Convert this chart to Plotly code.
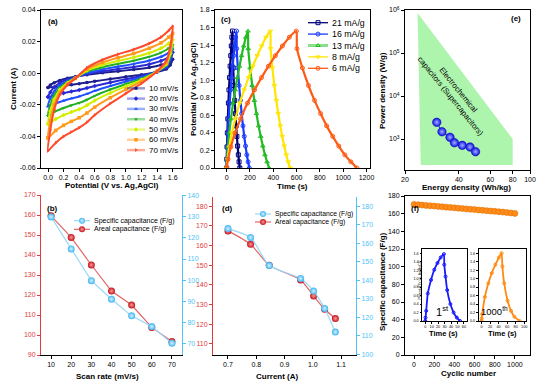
import plotly.graph_objects as go

W, H = 554, 385
FONT = "Liberation Sans, Arial, sans-serif"

# ---------------- (a) cyclic voltammetry ----------------
cv_labels = ["10 mV/s", "20 mV/s", "30 mV/s", "40 mV/s", "50 mV/s", "60 mV/s", "70 mV/s"]
cv_v_up = [0, 0.03, 0.08, 0.15, 0.25, 0.35, 0.5, 0.7, 0.9, 1.1, 1.3, 1.45, 1.55, 1.6]
cv_v_down = [1.6, 1.57, 1.52, 1.4, 1.2, 1.0, 0.8, 0.6, 0.5, 0.4, 0.3, 0.2, 0.1, 0.0]
cv_up_10 = [-0.009, -0.0075, -0.006, -0.0046, -0.0032, -0.0022, -0.001, 0.0003, 0.0013, 0.0023, 0.0036, 0.0052, 0.0070, 0.0088]
cv_up_20 = [-0.015, -0.012, -0.0088, -0.0062, -0.0040, -0.0025, -0.0005, 0.0012, 0.0026, 0.0039, 0.0057, 0.0078, 0.0103, 0.0133]
cv_up_30 = [-0.021, -0.016, -0.0115, -0.0078, -0.0049, -0.0028, 0.0002, 0.0024, 0.0042, 0.0059, 0.0080, 0.0104, 0.0130, 0.0155]
cv_up_40 = [-0.027, -0.020, -0.014, -0.0092, -0.0056, -0.0030, 0.0010, 0.0038, 0.0059, 0.0079, 0.0104, 0.0130, 0.0158, 0.0180]
cv_up_50 = [-0.032, -0.024, -0.0165, -0.0105, -0.0062, -0.0032, 0.0017, 0.0052, 0.0077, 0.0100, 0.0128, 0.0158, 0.0188, 0.0212]
cv_up_60 = [-0.041, -0.030, -0.020, -0.0122, -0.0068, -0.0033, 0.0025, 0.0068, 0.0098, 0.0125, 0.0158, 0.0192, 0.0228, 0.0252]
cv_up_70 = [-0.049, -0.036, -0.023, -0.0138, -0.0074, -0.0034, 0.0034, 0.0085, 0.0120, 0.0150, 0.0188, 0.0228, 0.0270, 0.0297]
cv_down_10 = [0.0088, 0.0052, 0.0026, 0.0008, -0.0010, -0.0023, -0.0037, -0.0051, -0.0059, -0.0066, -0.0073, -0.0079, -0.0085, -0.009]
cv_down_20 = [0.0133, 0.0078, 0.0036, 0.0010, -0.0018, -0.0038, -0.0059, -0.0081, -0.0094, -0.0106, -0.0116, -0.0126, -0.0137, -0.015]
cv_down_30 = [0.0155, 0.0092, 0.0042, 0.0011, -0.0026, -0.0053, -0.0081, -0.0112, -0.0131, -0.0147, -0.0160, -0.0174, -0.0190, -0.021]
cv_down_40 = [0.0180, 0.0108, 0.0050, 0.0012, -0.0034, -0.0068, -0.0103, -0.0143, -0.0168, -0.0188, -0.0203, -0.0220, -0.0240, -0.027]
cv_down_50 = [0.0212, 0.0125, 0.0058, 0.0012, -0.0042, -0.0083, -0.0125, -0.0173, -0.0203, -0.0228, -0.0246, -0.0265, -0.0290, -0.032]
cv_down_60 = [0.0252, 0.0145, 0.0068, 0.0012, -0.0052, -0.0102, -0.0155, -0.0215, -0.0252, -0.0282, -0.0305, -0.0330, -0.0362, -0.041]
cv_down_70 = [0.0297, 0.017, 0.008, 0.0012, -0.0065, -0.0128, -0.0192, -0.0265, -0.0310, -0.0345, -0.0372, -0.0400, -0.0440, -0.049]
cv_colors = ["#1e1e8c", "#2a2ad2", "#1f4fff", "#22b022", "#d2ee00", "#ff9a1a", "#ff4a2a"]
cv_symbols = ["circle", "diamond", "triangle-up", "triangle-down", "diamond", "square", "triangle-right"]

# ---------------- (c) galvanostatic charge/discharge ----------------
gcd_labels = ["21 mA/g", "16 mA/g", "13 mA/g", "8 mA/g", "6 mA/g"]
gcd_v = [0, 0.10, 0.24, 0.40, 0.56, 0.74, 0.89, 1.03, 1.16, 1.28, 1.39, 1.49, 1.56,
         1.36, 1.14, 0.94, 0.77, 0.62, 0.48, 0.36, 0.25, 0.15, 0.07, 0.0]
gcd_t_21 = [0, 1, 3, 6, 10, 15, 20, 25, 30, 35, 40, 45, 50,
            50.6, 56.3, 62.6, 68.9, 75.2, 81.5, 87.8, 94.1, 100.4, 106.7, 113]
gcd_t_16 = [0, 1.7, 5.1, 10.2, 17, 25.5, 34, 42.5, 51, 59.5, 68, 76.5, 85,
            86.1, 96, 107, 118, 129, 140, 151, 162, 173, 184, 195]
gcd_t_13 = [0, 3.7, 11, 22, 36.6, 54.9, 73.2, 91.5, 109.8, 128.1, 146.4, 164.7, 183,
            184.8, 201.2, 219.4, 237.6, 255.8, 274, 292.2, 310.4, 328.6, 346.8, 365]
gcd_t_8 = [0, 7.5, 22.5, 45, 75, 112.5, 150, 187.5, 225, 262.5, 300, 337.5, 375,
           376.7, 392, 409, 426, 443, 460, 477, 494, 511, 528, 545]
gcd_t_6 = [0, 12, 35.9, 71.8, 119.6, 179.4, 239.2, 299, 358.8, 418.6, 478.4, 538.2, 598,
           603.2, 650, 702, 754, 806, 858, 910, 962, 1014, 1066, 1118]
gcd_colors = ["#00007a", "#1a3cff", "#22bb22", "#ffe600", "#ff5a14"]
gcd_symbols = ["square-open", "circle-open", "triangle-up-open", "triangle-down-open", "circle-open"]

# ---------------- (e) Ragone plot ----------------
region_energy = [23.5, 80, 80, 24.5]
region_power = [8.5e5, 1000, 250, 250]
ragone_energy = [30.1, 32.2, 35.7, 37.8, 41.8, 46.2, 49.6]
ragone_power = [2445, 1479, 1096, 820, 713, 652, 507]

# ---------------- (b) capacitance vs scan rate ----------------
scan_rate = [10, 20, 30, 40, 50, 60, 70]
b_areal = [159.6, 148.8, 135.0, 122.0, 115.0, 103.8, 96.8]
b_specific = [130.0, 114.8, 99.7, 90.9, 83.0, 77.9, 70.0]

# ---------------- (d) capacitance vs current ----------------
d_current = [0.70, 0.78, 0.846, 0.957, 1.003, 1.042, 1.080]
d_areal = [167.4, 160.6, 149.9, 142.5, 134.4, 127.6, 122.9]
d_specific = [167.9, 163.1, 147.9, 140.9, 134.1, 124.7, 111.9]

# ---------------- (f) cycling stability ----------------
cycles = [0, 40, 80, 120, 160, 200, 240, 280, 320, 360, 400, 440, 480, 520, 560,
          600, 640, 680, 720, 760, 800, 840, 880, 920, 960, 1000]
cyc_cap = [170.4, 170.1, 169.7, 169.3, 168.9, 168.6, 168.2, 167.8, 167.4, 167.0, 166.6, 166.2, 165.8,
           165.4, 165.0, 164.6, 164.2, 163.8, 163.4, 163.0, 162.6, 162.2, 161.8, 161.3, 160.8, 160.3]
ins1_t = [0, 0.5, 1.5, 4, 9, 14, 19, 24, 29, 29.5, 31.5, 34, 39, 44, 49, 54]
ins1_v = [0, 0.08, 0.24, 0.65, 0.97, 1.21, 1.37, 1.50, 1.58, 1.33, 1.05, 0.73, 0.40, 0.20, 0.08, 0.0]
ins2_t = [0, 0.5, 1.6, 8, 16, 24, 32.5, 40.7, 47, 48.8, 53, 61, 69, 77, 89]
ins2_v = [0, 0.06, 0.16, 0.57, 0.89, 1.13, 1.33, 1.50, 1.60, 1.29, 0.89, 0.48, 0.24, 0.10, 0.0]

RED = "#e03c3c"
LBLUE = "#4fc3f7"

fig = go.Figure()

def dx(a, b):
    return [a / W, b / W]

def dy(top, bottom):
    return [1 - bottom / H, 1 - top / H]

def ax(**kw):
    d = dict(showline=True, linecolor="black", linewidth=1, ticks="outside", ticklen=3,
             tickwidth=1, tickcolor="black", showgrid=False, zeroline=False,
             tickfont=dict(size=7, color="black", family=FONT))
    d.update(kw)
    return d

# (a)
cv_up = [cv_up_10, cv_up_20, cv_up_30, cv_up_40, cv_up_50, cv_up_60, cv_up_70]
cv_down = [cv_down_10, cv_down_20, cv_down_30, cv_down_40, cv_down_50, cv_down_60, cv_down_70]
for lab, up, dn, col, sym in zip(cv_labels, cv_up, cv_down, cv_colors, cv_symbols):
    fig.add_trace(go.Scatter(x=cv_v_up + cv_v_down[1:], y=up + dn[1:], mode="lines+markers",
                             line=dict(color=col, width=2, shape="spline", smoothing=0.6),
                             marker=dict(symbol=sym, size=3.5, color=col),
                             xaxis="x", yaxis="y", showlegend=False, name=lab))

# (c)
gcd_t = [gcd_t_21, gcd_t_16, gcd_t_13, gcd_t_8, gcd_t_6]
for lab, t, col, sym in zip(gcd_labels, gcd_t, gcd_colors, gcd_symbols):
    fig.add_trace(go.Scatter(x=t, y=gcd_v, mode="lines+markers",
                             line=dict(color=col, width=2.2, shape="spline", smoothing=0.5),
                             marker=dict(symbol=sym, size=4, color=col, line=dict(width=1)),
                             xaxis="x2", yaxis="y2", showlegend=False, name=lab))

# (e)
fig.add_trace(go.Scatter(x=region_energy, y=region_power, fill="toself", mode="none",
                         fillcolor="#adf5ad", xaxis="x3", yaxis="y3", showlegend=False))
fig.add_trace(go.Scatter(x=ragone_energy, y=ragone_power, mode="lines+markers",
                         line=dict(color="#2020e0", width=1),
                         marker=dict(size=8.5, color="#1010e6", line=dict(width=0.5, color="#0000a0"),
                                     gradient=dict(type="radial", color="#9fb0ff")),
                         xaxis="x3", yaxis="y3", showlegend=False))

# (b)
fig.add_trace(go.Scatter(x=scan_rate, y=b_specific, mode="lines+markers",
                         line=dict(color="#9ad8f8", width=1.2),
                         marker=dict(size=7, color="#3fb6f0", gradient=dict(type="radial", color="#d6f1ff")),
                         xaxis="x4", yaxis="y5", showlegend=False))
fig.add_trace(go.Scatter(x=scan_rate, y=b_areal, mode="lines+markers",
                         line=dict(color="#e06666", width=1.2),
                         marker=dict(size=7, color="#c0141c", gradient=dict(type="radial", color="#ff9a9a")),
                         xaxis="x4", yaxis="y4", showlegend=False))

# (d)
fig.add_trace(go.Scatter(x=d_current, y=d_specific, mode="lines+markers",
                         line=dict(color="#9ad8f8", width=1.2, shape="spline", smoothing=0.6),
                         marker=dict(size=7, color="#3fb6f0", gradient=dict(type="radial", color="#d6f1ff")),
                         xaxis="x5", yaxis="y7", showlegend=False))
fig.add_trace(go.Scatter(x=d_current, y=d_areal, mode="lines+markers",
                         line=dict(color="#e06666", width=1.2, shape="spline", smoothing=0.6),
                         marker=dict(size=7, color="#c0141c", gradient=dict(type="radial", color="#ff9a9a")),
                         xaxis="x5", yaxis="y6", showlegend=False))

# (f)
fig.add_trace(go.Scatter(x=cycles, y=cyc_cap, mode="lines+markers",
                         line=dict(color="#ff8c1a", width=3),
                         marker=dict(size=6, color="#ff8c1a", line=dict(width=0.6, color="#e07000")),
                         xaxis="x6", yaxis="y8", showlegend=False))
fig.add_trace(go.Scatter(x=ins1_t, y=ins1_v, mode="lines+markers",
                         line=dict(color="#1a1aff", width=1.8, shape="spline", smoothing=0.5),
                         marker=dict(symbol="circle-open", size=3, color="#1a1aff"),
                         xaxis="x7", yaxis="y9", showlegend=False))
fig.add_trace(go.Scatter(x=ins2_t, y=ins2_v, mode="lines+markers",
                         line=dict(color="#ff8a10", width=1.8, shape="spline", smoothing=0.5),
                         marker=dict(symbol="circle-open", size=3, color="#ff8a10"),
                         xaxis="x8", yaxis="y10", showlegend=False))

# ---- manual legends on a pixel overlay axis ----
annotations = []

def txt(x, y, s, size=8, bold=False, color="black", xanchor="center", yanchor="middle", angle=0):
    annotations.append(dict(x=x, y=y, xref="x9", yref="y11", text=("<b>%s</b>" % s) if bold else s,
                            showarrow=False, xanchor=xanchor, yanchor=yanchor, textangle=angle,
                            font=dict(size=size, color=color, family=FONT)))

def legend_item(x0, x1, y, col, sym, msize, label, fsize, lcol=None, lw=2, grad=None):
    fig.add_trace(go.Scatter(x=[x0, x1], y=[y, y], mode="lines",
                             line=dict(color=lcol or col, width=lw),
                             xaxis="x9", yaxis="y11", showlegend=False, hoverinfo="skip"))
    mk = dict(symbol=sym, size=msize, color=col)
    if grad:
        mk["gradient"] = dict(type="radial", color=grad)
    fig.add_trace(go.Scatter(x=[(x0 + x1) / 2], y=[y], mode="markers", marker=mk,
                             xaxis="x9", yaxis="y11", showlegend=False, hoverinfo="skip"))
    txt(x1 + 2, y, label, size=fsize, xanchor="left")

for i, (lab, col, sym) in enumerate(zip(cv_labels, cv_colors, cv_symbols)):
    lc = "rgba(%d,%d,%d,0.45)" % tuple(int(col[k:k + 2], 16) for k in (1, 3, 5))
    legend_item(127, 145, 88.3 + i * 10.3, col, sym, 3.5, lab, 8, lcol=lc, lw=2.5)

for i, (lab, col, sym) in enumerate(zip(gcd_labels, gcd_colors, gcd_symbols)):
    lw = 3 if i == 2 else 1.3
    lc = "#88e088" if i == 2 else col
    legend_item(308, 328, 22.7 + i * 11.4, col, sym, 4, lab, 8.8, lcol=lc, lw=lw)

legend_item(74, 90, 220.7, "#3fb6f0", "circle", 6, "Specific capacitance (F/g)", 7, lcol="#9ad8f8", lw=1.2, grad="#d6f1ff")
legend_item(74, 90, 229.3, "#c0141c", "circle", 6, "Areal capacitance (F/g)", 7, lcol="#e06666", lw=1.2, grad="#ff9a9a")
legend_item(255, 271, 214, "#3fb6f0", "circle", 6, "Specific capacitance (F/g)", 6.8, lcol="#9ad8f8", lw=1.2, grad="#d6f1ff")
legend_item(255, 271, 222, "#c0141c", "circle", 6, "Areal capacitance (F/g)", 6.8, lcol="#e06666", lw=1.2, grad="#ff9a9a")

# axis titles
txt(112, 185, "Potential (V vs. Ag,AgCl)", 8, True)
txt(13, 89, "Current (A)", 8, True, angle=-90)
txt(292, 186, "Time (s)", 8, True)
txt(193, 89, "Potential (V vs. Ag,AgCl)", 8, True, angle=-90)
txt(466, 187, "Energy density (Wh/kg)", 8, True)
txt(382, 91, "Power density (W/g)", 8, True, angle=-90)
txt(107, 376, "Scan rate (mV/s)", 8, True)
txt(277, 376, "Current (A)", 8, True)
txt(468, 373, "Cyclic number", 8, True)
txt(382, 282, "Specific capacitance (F/g)", 8, True, angle=-90)
txt(443, 333, "Time (s)", 7.5, True)
txt(502, 333, "Time (s)", 7.5, True)
txt(419.5, 281, "Potential (V vs. Ag/AgCl)", 3.5, False, angle=-90)
# panel labels
txt(45.5, 21, "(a)", 8, True, xanchor="left")
txt(219, 19, "(c)", 8, True, xanchor="left")
txt(509, 18.5, "(e)", 8, True, xanchor="left")
txt(45, 208, "(b)", 8, True, xanchor="left")
txt(220, 208.5, "(d)", 8, True, xanchor="left")
txt(408.5, 208, "(f)", 8, True, xanchor="left")
# in-plot text
txt(455, 93, "Electrochemical<br>capacitors (Supercapacitors)", 7.8, angle=51)
txt(442, 311, "1<sup>st</sup>", 11)
txt(494, 311, "1000<sup>th</sup>", 9.5)

def fmt(vals, nd):
    return [("%." + str(nd) + "f") % v for v in vals]

a_xt = [0, 0.2, 0.4, 0.6, 0.8, 1.0, 1.2, 1.4, 1.6]
a_yt = [-0.06, -0.04, -0.02, 0.0, 0.02, 0.04]
c_xt = [0, 200, 400, 600, 800, 1000, 1200]
c_yt = [0, 0.2, 0.4, 0.6, 0.8, 1.0, 1.2, 1.4, 1.6, 1.8]
in_yt = [0, 0.2, 0.4, 0.6, 0.8, 1.0, 1.2, 1.4, 1.6]

red_font = dict(size=7, color=RED, family=FONT)
blue_font = dict(size=7, color=LBLUE, family=FONT)
tiny = dict(size=3.8, color="black", family=FONT)

fig.update_layout(
    width=W, height=H, margin=dict(l=0, r=0, t=0, b=0, pad=0, autoexpand=False),
    paper_bgcolor="white", plot_bgcolor="rgba(0,0,0,0)", showlegend=False,
    font=dict(family=FONT, size=7, color="black"),
    annotations=annotations,
    xaxis=ax(domain=dx(41, 182), range=[-0.09, 1.72], anchor="y", mirror=True,
             tickvals=a_xt, ticktext=fmt(a_xt, 1)),
    yaxis=ax(domain=dy(10, 168), range=[-0.06, 0.04], anchor="x", mirror=True,
             tickvals=a_yt, ticktext=fmt(a_yt, 2)),
    xaxis2=ax(domain=dx(215, 370), range=[-100, 1230], anchor="y2", mirror=True,
              tickvals=c_xt, ticktext=[str(v) for v in c_xt]),
    yaxis2=ax(domain=dy(10, 168), range=[0, 1.8], anchor="x2", mirror=True,
              tickvals=c_yt, ticktext=fmt(c_yt, 1)),
    xaxis3=ax(domain=dx(405, 530), type="log", range=[1.30103, 2.0], anchor="y3", mirror=True,
              tickvals=[20, 40, 60, 80, 100], ticktext=["20", "40", "60", "80", "100"]),
    yaxis3=ax(domain=dy(10, 170), type="log", range=[2.28, 6.0], anchor="x3", mirror=True,
              tickvals=[1e3, 1e4, 1e5, 1e6],
              ticktext=["10<sup>3</sup>", "10<sup>4</sup>", "10<sup>5</sup>", "10<sup>6</sup>"]),
    xaxis4=ax(domain=dx(41, 182), range=[5, 75], anchor="y4",
              tickvals=scan_rate, ticktext=[str(v) for v in scan_rate]),
    yaxis4=ax(domain=dy(195, 355), range=[90, 170], anchor="x4", linecolor=RED, tickcolor=RED,
              tickfont=red_font, tickvals=list(range(90, 171, 10))),
    yaxis5=ax(overlaying="y4", side="right", anchor="x4", range=[64.4, 140.4], linecolor=LBLUE,
              tickcolor=LBLUE, tickfont=blue_font, tickvals=list(range(70, 141, 10))),
    xaxis5=ax(domain=dx(213, 356), range=[0.647, 1.153], anchor="y6",
              tickvals=[0.7, 0.8, 0.9, 1.0, 1.1], ticktext=["0.7", "0.8", "0.9", "1.0", "1.1"]),
    yaxis6=ax(domain=dy(197, 355), range=[104.4, 184.6], anchor="x5", linecolor=RED, tickcolor=RED,
              tickfont=red_font, tickvals=list(range(110, 181, 10))),
    yaxis7=ax(overlaying="y6", side="right", anchor="x5", range=[99.5, 185], linecolor=LBLUE,
              tickcolor=LBLUE, tickfont=blue_font, tickvals=list(range(100, 181, 10))),
    xaxis6=ax(domain=dx(405, 530), range=[-90, 1150], anchor="y8", mirror=True,
              tickvals=[0, 200, 400, 600, 800, 1000]),
    yaxis8=ax(domain=dy(196, 355), range=[0, 180], anchor="x6", mirror=True,
              tickvals=list(range(0, 181, 20))),
    xaxis7=ax(domain=dx(422, 466.5), range=[-5, 64], anchor="y9", mirror=True, ticklen=1.5,
              tickfont=tiny, tickvals=[0, 10, 20, 30, 40, 50, 60]),
    yaxis9=ax(domain=dy(249, 321), range=[0, 1.7], anchor="x7", mirror=True, ticklen=1.5,
              tickfont=tiny, tickvals=in_yt, ticktext=fmt(in_yt, 1)),
    xaxis8=ax(domain=dx(478.5, 526), range=[-7, 104], anchor="y10", mirror=True, ticklen=1.5,
              tickfont=tiny, tickvals=[0, 20, 40, 60, 80, 100]),
    yaxis10=ax(domain=dy(249, 321), range=[0, 1.7], anchor="x8", mirror=True, ticklen=1.5,
               tickfont=tiny, tickvals=in_yt, ticktext=fmt(in_yt, 1)),
    xaxis9=dict(domain=[0, 1], range=[0, W], visible=False, anchor="y11", fixedrange=True),
    yaxis11=dict(domain=[0, 1], range=[H, 0], visible=False, anchor="x9", fixedrange=True),
)

fig.write_html("out.html", config={"displayModeBar": False},
               post_script="document.body.style.margin='0px';document.body.style.overflow='hidden';")
